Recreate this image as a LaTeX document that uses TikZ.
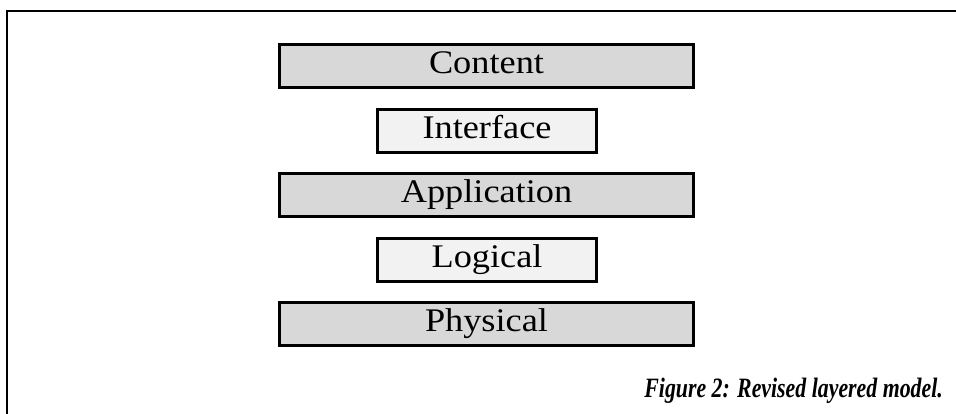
\documentclass[tikz,border=0pt]{standalone}
\usepackage{fontspec}
\setmainfont{Liberation Serif}
\newfontfamily\layerfont[FakeStretch=1.1]{Liberation Serif}
\newfontfamily\capfont[FakeStretch=0.78]{Liberation Serif}
\definecolor{layerdark}{HTML}{D8D8D8}
\definecolor{layerlight}{HTML}{F2F2F2}
\tikzset{
  layer/.style={draw=black, line width=3pt, inner sep=0pt,
    minimum height=43pt, text height=22pt, text depth=7pt,
    font=\layerfont\fontsize{33pt}{38pt}\selectfont},
  widelayer/.style={layer, fill=layerdark, minimum width=414pt},
  narrowlayer/.style={layer, fill=layerlight, minimum width=219pt},
  frameline/.style={line width=2pt, line join=miter}
}
\begin{document}
\begin{tikzpicture}[x=1pt, y=-1pt]
  \useasboundingbox (0,0) rectangle (956,413);
  % open frame: top and left edges only
  \coordinate (frameTR) at (970,11);
  \coordinate (frameTL) at (7,11);
  \coordinate (frameBL) at (7,430);
  \draw[frameline] (frameTR) -- (frameTL) -- (frameBL);
  % the five layers
  \node[widelayer]   (content)     at (486.5,66)    {Content};
  \node[narrowlayer] (interface)   at (487,130.5)   {Interface};
  \node[widelayer]   (application) at (486.5,195)   {Application};
  \node[narrowlayer] (logical)     at (487,259.5)   {Logical};
  \node[widelayer]   (physical)    at (486.5,324)   {Physical};
  % caption
  \node[anchor=base east, inner sep=0pt,
        font=\capfont\bfseries\itshape\fontsize{28pt}{32pt}\selectfont]
       (caption) at (943,397) {Figure 2: Revised layered model.};
\end{tikzpicture}
\end{document}
